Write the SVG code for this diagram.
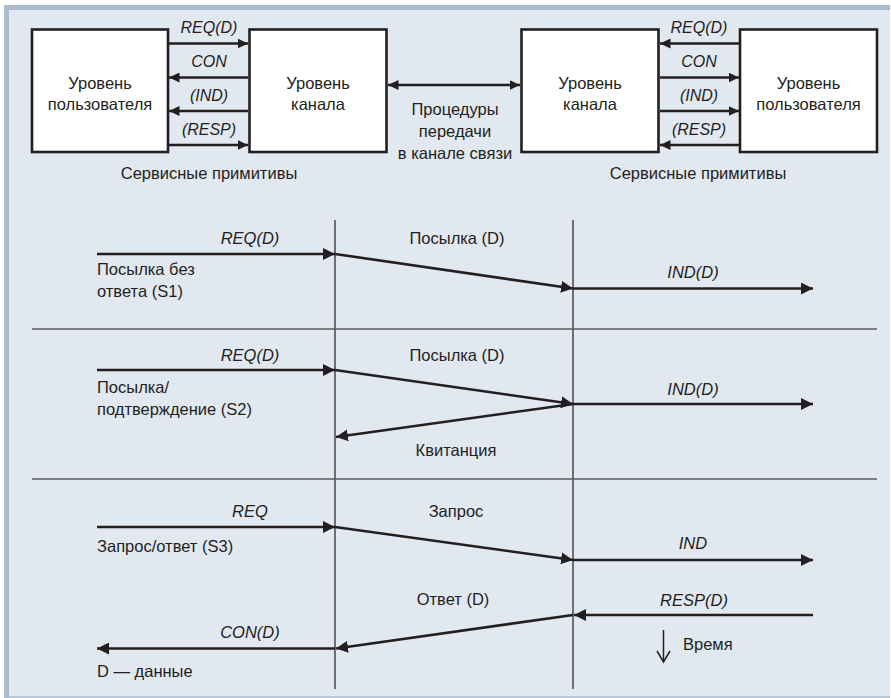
<svg xmlns="http://www.w3.org/2000/svg" width="891" height="698" viewBox="0 0 891 698">
<style>
.t{font-family:"Liberation Sans",Arial,sans-serif;font-size:16.5px;fill:#231f20}
.i{font-family:"Liberation Sans",Arial,sans-serif;font-size:16px;font-style:italic;fill:#231f20}
.j{font-family:"Liberation Sans",Arial,sans-serif;font-size:16.5px;font-style:italic;fill:#231f20}
.c{text-anchor:middle}
.box{fill:#fff;stroke:#231f20;stroke-width:2.6}
.a{stroke:#231f20;stroke-width:2.6;fill:none}
.ta{marker-end:url(#hs)}
.sa{marker-end:url(#hb)}
.v{stroke:#231f20;stroke-width:1.2}
.sep{stroke:#5a5a5a;stroke-width:1.5}
</style>
<defs>
<marker id="hs" markerUnits="userSpaceOnUse" markerWidth="11" markerHeight="10" refX="10.5" refY="5" orient="auto-start-reverse"><path d="M0,0 L10.5,5 L0,10 z" fill="#231f20"/></marker>
<marker id="hb" markerUnits="userSpaceOnUse" markerWidth="13" markerHeight="12" refX="12" refY="6" orient="auto-start-reverse"><path d="M0,0 L12,6 L0,12 z" fill="#231f20"/></marker>
</defs>
<rect x="0" y="0" width="891" height="698" fill="#fff"/>
<rect x="4" y="5" width="886" height="693" fill="#a9bdce"/>
<rect x="9" y="10" width="881" height="686" fill="#e1e8f0"/>
<rect x="9" y="696" width="881" height="2" fill="#b9c8d6"/>

<g id="user-left"><rect class="box" x="32" y="29.5" width="136" height="122.5"/><text class="t c" x="100" y="89">Уровень</text><text class="t c" x="100" y="110">пользователя</text></g>
<g id="channel-left"><rect class="box" x="249.5" y="29.5" width="137" height="122.5"/><text class="t c" x="318" y="89">Уровень</text><text class="t c" x="318" y="110">канала</text></g>
<g id="channel-right"><rect class="box" x="521.5" y="29.5" width="137" height="122.5"/><text class="t c" x="590" y="89">Уровень</text><text class="t c" x="590" y="110">канала</text></g>
<g id="user-right"><rect class="box" x="740" y="29.5" width="137" height="122.5"/><text class="t c" x="808.5" y="89">Уровень</text><text class="t c" x="808.5" y="110">пользователя</text></g>

<g id="connectors">
<line class="a ta" x1="169" y1="43.5" x2="248" y2="43.5"/>
<line class="a ta" x1="248" y1="77.5" x2="169" y2="77.5"/>
<line class="a ta" x1="248" y1="111" x2="169" y2="111"/>
<line class="a ta" x1="169" y1="145" x2="248" y2="145"/>
<line class="a ta" x1="739" y1="43.5" x2="660" y2="43.5"/>
<line class="a ta" x1="660" y1="77.5" x2="739" y2="77.5"/>
<line class="a ta" x1="660" y1="111" x2="739" y2="111"/>
<line class="a ta" x1="739" y1="145" x2="660" y2="145"/>
<line class="a" x1="388" y1="85" x2="520" y2="85" marker-start="url(#hs)" marker-end="url(#hs)"/>
</g>
<g id="labels-top">
<text class="i c" x="209" y="33">REQ(D)</text>
<text class="i c" x="209" y="67">CON</text>
<text class="i c" x="209" y="101">(IND)</text>
<text class="i c" x="209" y="135">(RESP)</text>
<text class="i c" x="699" y="33">REQ(D)</text>
<text class="i c" x="699" y="67">CON</text>
<text class="i c" x="699" y="101">(IND)</text>
<text class="i c" x="699" y="135">(RESP)</text>
<text class="t c" x="455" y="115">Процедуры</text>
<text class="t c" x="455" y="137">передачи</text>
<text class="t c" x="455" y="158.5">в канале связи</text>
<text class="t c" x="209" y="178.5">Сервисные примитивы</text>
<text class="t c" x="698" y="178.5">Сервисные примитивы</text>
</g>

<g id="sequence">
<line class="v" x1="335" y1="220" x2="335" y2="689"/>
<line class="v" x1="573" y1="220" x2="573" y2="689"/>
<line class="sep" x1="32" y1="329" x2="877" y2="329"/>
<line class="sep" x1="32" y1="479" x2="877" y2="479"/>

<line class="a sa" x1="97" y1="254" x2="335" y2="254"/>
<line class="a sa" x1="335" y1="254" x2="573" y2="288.5"/>
<line class="a sa" x1="573" y1="288.5" x2="813" y2="288.5"/>
<text class="j c" x="250" y="244">REQ(D)</text>
<text class="t c" x="457" y="244">Посылка (D)</text>
<text class="j c" x="693" y="278">IND(D)</text>
<text class="t" x="97" y="275">Посылка без</text>
<text class="t" x="97" y="297">ответа (S1)</text>

<line class="a sa" x1="97" y1="370" x2="335" y2="370"/>
<line class="a sa" x1="335" y1="370" x2="573" y2="404"/>
<line class="a sa" x1="573" y1="404" x2="813" y2="404"/>
<line class="a sa" x1="573" y1="404" x2="336" y2="437"/>
<text class="j c" x="250" y="361">REQ(D)</text>
<text class="t c" x="457" y="361">Посылка (D)</text>
<text class="j c" x="693" y="395">IND(D)</text>
<text class="t" x="97" y="393">Посылка/</text>
<text class="t" x="97" y="415">подтверждение (S2)</text>
<text class="t c" x="456" y="456">Квитанция</text>

<line class="a sa" x1="97" y1="527" x2="335" y2="527"/>
<line class="a sa" x1="335" y1="527" x2="573" y2="560"/>
<line class="a sa" x1="573" y1="560" x2="813" y2="560"/>
<line class="a sa" x1="813" y1="615" x2="574" y2="615"/>
<line class="a sa" x1="573" y1="615" x2="336" y2="648.5"/>
<line class="a sa" x1="335" y1="648.5" x2="97" y2="648.5"/>
<text class="j c" x="250" y="517">REQ</text>
<text class="t c" x="456" y="517">Запрос</text>
<text class="j c" x="693" y="549">IND</text>
<text class="t" x="97" y="552">Запрос/ответ (S3)</text>
<text class="t c" x="453" y="605">Ответ (D)</text>
<text class="j c" x="694" y="606">RESP(D)</text>
<text class="j c" x="250" y="638">CON(D)</text>
<text class="t" x="97" y="677">D — данные</text>

<line x1="663.5" y1="630" x2="663.5" y2="661" stroke="#231f20" stroke-width="1.5"/>
<path d="M657,651 L663.5,662 L670,651" fill="none" stroke="#231f20" stroke-width="1.5"/>
<text class="t" x="683" y="650">Время</text>
</g>
</svg>
